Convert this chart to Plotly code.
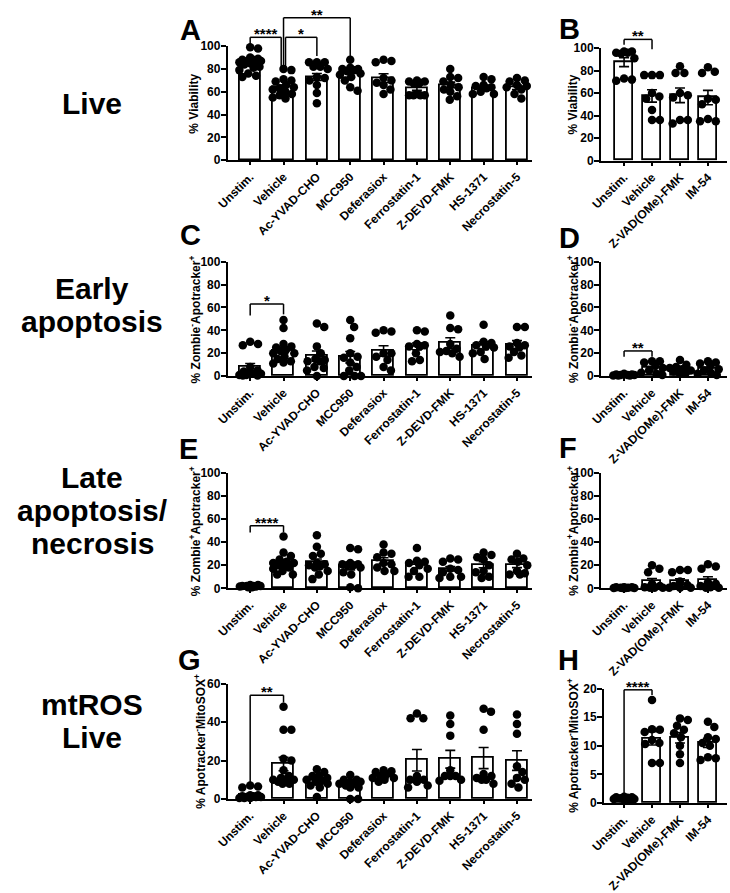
import numpy as np
import plotly.graph_objects as go

W, H = 730, 893

# ---------------- categories ----------------
left_cats = ["Unstim.", "Vehicle", "Ac-YVAD-CHO", "MCC950", "Deferasiox",
             "Ferrostatin-1", "Z-DEVD-FMK", "HS-1371", "Necrostatin-5"]
right_cats = ["Unstim.", "Vehicle", "Z-VAD(OMe)-FMK", "IM-54"]

# ---------------- Panel A: Live, % viability ----------------
A_points = [
    [99, 98, 90, 89, 88, 88, 87, 87, 86, 86, 85, 84, 82, 81, 79, 76, 74, 73],
    [80, 79, 71, 70, 69, 66, 64, 63, 62, 60, 58, 57, 55, 54],
    [86, 86, 86, 82, 82, 80, 73, 72, 70, 66, 59, 50],
    [88, 81, 80, 80, 79, 78, 76, 75, 73, 70, 64, 61],
    [88, 87, 86, 70, 68, 72, 66, 62, 58],
    [70, 69, 69, 68, 67, 58, 57, 57, 57, 57],
    [80, 73, 72, 69, 66, 64, 62, 60, 56, 53],
    [73, 71, 66, 65, 64, 63, 58, 58, 60],
    [72, 70, 69, 66, 65, 64, 62, 58, 54],
]
A_mean = [85, 64, 73, 75, 72, 63, 66, 63, 64]
A_sem = [1.6, 2.0, 3.0, 2.2, 3.8, 1.7, 2.5, 1.8, 2.0]

# ---------------- Panel B ----------------
B_points = [
    [97, 97, 96, 96, 95, 91, 73, 72, 71],
    [76, 76, 76, 60, 57, 55, 45, 36, 36],
    [84, 78, 78, 60, 58, 56, 36, 36, 33],
    [83, 79, 78, 55, 54, 50, 37, 35, 35],
]
B_mean = [87.5, 57.5, 58, 56]
B_sem = [3.9, 5.5, 6.5, 6.4]

# ---------------- Panel C: early apoptosis ----------------
C_points = [
    [30, 28, 27, 8, 5, 4, 3, 2, 2, 1, 1, 0.5, 0.5],
    [49, 42, 28, 26, 25, 23, 22, 20, 20, 17, 15, 13, 12, 11],
    [46, 43, 26, 20, 15, 14, 13, 13, 8, 7, 5, 0],
    [49, 43, 33, 20, 17, 16, 12, 8, 5, 0, 0, 0],
    [40, 39, 38, 20, 20, 17, 14, 8, 5],
    [40, 39, 28, 27, 26, 26, 20, 14, 13],
    [53, 42, 41, 28, 24, 22, 21, 20, 17],
    [45, 30, 29, 27, 26, 25, 21, 20, 15],
    [43, 43, 29, 27, 26, 25, 21, 18, 16],
]
C_mean = [8, 22.5, 17.5, 16.5, 22, 26, 29, 26.5, 27.5]
C_sem = [3, 3, 4.5, 5, 4.5, 3, 4.5, 3.5, 3.5]

# ---------------- Panel D ----------------
D_points = [
    [2, 1.5, 1.5, 1, 1, 1, 0.5, 0.5, 0.5],
    [13, 13, 12, 9, 7, 5, 3, 2, 1],
    [14, 10, 8, 7, 6, 5, 4, 3, 2],
    [13, 12, 11, 9, 6, 5, 3, 2, 1],
]
D_mean = [1.1, 7.0, 6.3, 6.5]
D_sem = [0.2, 1.6, 1.2, 1.5]

# ---------------- Panel E: late apoptosis / necrosis ----------------
E_points = [
    [3, 3, 2, 2, 2, 2, 1.5, 1.5, 1, 1, 1],
    [45, 31, 28, 25, 23, 22, 22, 21, 20, 18, 17, 15, 12, 12],
    [46, 36, 30, 28, 22, 21, 20, 19, 18, 15, 12, 8],
    [35, 34, 22, 21, 21, 20, 20, 18, 14, 12, 1, 0],
    [38, 31, 30, 27, 22, 21, 18, 15, 15],
    [35, 24, 23, 22, 20, 17, 15, 10, 10],
    [26, 25, 23, 17, 16, 14, 10, 10, 9],
    [31, 29, 27, 25, 20, 15, 14, 10, 9],
    [30, 26, 25, 23, 20, 15, 13, 12, 12],
]
E_mean = [1.8, 22.5, 22.5, 19, 24, 20, 17, 20.5, 20]
E_sem = [0.2, 2.3, 3, 3, 2.5, 2.5, 2, 2.6, 2]

# ---------------- Panel F ----------------
F_points = [
    [1, 1, 1, 0.5, 0.5, 0.3, 0.3, 0.2, 0.2],
    [20, 17, 14, 4, 2, 1, 0.5, 0.5, 0.5],
    [16, 16, 14, 6, 3, 2, 0.5, 0.5, 0.5],
    [21, 19, 17, 5, 4, 2, 1, 0.5, 0.5],
]
F_mean = [0.6, 6.0, 6.0, 7.0]
F_sem = [0.1, 2.6, 2.3, 3.0]

# ---------------- Panel G: mtROS ----------------
G_points = [
    [7, 6.5, 6, 2, 2, 1.5, 1.5, 1, 1, 1, 0.5, 0.5, 0.5],
    [48, 36, 36, 21, 20, 15, 12, 11, 10, 10, 10, 9, 8, 8],
    [15.5, 14, 12, 12, 11, 10, 9.5, 9, 8, 7, 6, 1],
    [12.5, 10, 10, 9, 9, 8, 8, 7, 6, 6, 0, 0],
    [15, 14.5, 14, 13, 12, 11, 11, 10, 9],
    [44.5, 42, 42, 12, 10, 10, 9, 7, 6],
    [43.5, 39, 33, 15, 12, 12, 12, 10, 9.5],
    [47, 45.5, 36, 13, 12, 11, 10, 10, 8],
    [44, 39, 34, 17, 14, 11, 10, 8, 6],
]
G_mean = [2.0, 18.2, 9.5, 7.5, 11.6, 20.2, 20.7, 21.3, 20.0]
G_sem = [0.7, 3.5, 1.2, 1.1, 0.8, 5.6, 4.6, 5.5, 5.1]

# ---------------- Panel H ----------------
H_points = [
    [1.1, 1.0, 1.0, 0.9, 0.8, 0.7, 0.7, 0.6, 0.5],
    [18, 12.9, 12.8, 12.4, 11, 10.5, 10.3, 7, 7],
    [14.8, 14.5, 13.5, 12.8, 12.2, 11.5, 10, 8.5, 7],
    [14.2, 13.3, 11.5, 11.2, 10.5, 10, 8, 7.8, 7.5],
]
H_mean = [0.8, 11.3, 11.4, 10.5]
H_sem = [0.07, 1.15, 0.9, 0.8]

# significance brackets: (x_left, x_right, y_top, y_left_end, y_right_end, label)
A_sig = [(0, 0.93, 107.8, 101.5, 81, "****"),
         (1.06, 2.0, 107.8, 81, 91.5, "*"),
         (1.0, 3.0, 125, 81, 91.5, "**")]
B_sig = [(0, 1, 107.8, 103, 99, "**")]
C_sig = [(0, 1, 63, 53, 54, "*")]
D_sig = [(0, 1, 22, 17, 17, "**")]
E_sig = [(0, 1, 54.4, 48.5, 48.5, "****")]
F_sig = []
G_sig = [(0, 1, 54, 8, 50.2, "**")]
H_sig = [(0, 1, 19.8, 1.3, 18.9, "****")]

T_viab = "% Viability"
T_early = "% Zombie<sup>-</sup>Apotracker<sup>+</sup>"
T_late = "% Zombie<sup>+</sup>Apotracker<sup>+</sup>"
T_ros = "% Apotracker<sup>-</sup>MitoSOX<sup>+</sup>"

# geometry (pixels)
LEFT = dict(yax=218, xend=528, c0=240.8, step=34.0, tx=184)
RIGHT = dict(yax=598.5, xend=727, c0=622.0, step=28.5, tx=570)

panels = [
    dict(L="A", g=LEFT, cats=left_cats, pts=A_points, m=A_mean, s=A_sem, sig=A_sig,
         ytop=40, ybot=156.3, ymax=100, dt=20, title=T_viab, lx=180, ly=23),
    dict(L="B", g=RIGHT, cats=right_cats, pts=B_points, m=B_mean, s=B_sem, sig=B_sig,
         ytop=42, ybot=156.7, ymax=100, dt=20, title=T_viab, lx=566, ly=22),
    dict(L="C", g=LEFT, cats=left_cats, pts=C_points, m=C_mean, s=C_sem, sig=C_sig,
         ytop=260, ybot=376.7, ymax=100, dt=20, title=T_early, lx=180, ly=233),
    dict(L="D", g=RIGHT, cats=right_cats, pts=D_points, m=D_mean, s=D_sem, sig=D_sig,
         ytop=260, ybot=376.7, ymax=100, dt=20, title=T_early, lx=566, ly=236),
    dict(L="E", g=LEFT, cats=left_cats, pts=E_points, m=E_mean, s=E_sem, sig=E_sig,
         ytop=475.7, ybot=593.3, ymax=100, dt=20, title=T_late, lx=178, ly=451),
    dict(L="F", g=RIGHT, cats=right_cats, pts=F_points, m=F_mean, s=F_sem, sig=F_sig,
         ytop=475.7, ybot=593.3, ymax=100, dt=20, title=T_late, lx=565, ly=450),
    dict(L="G", g=dict(LEFT, tx=190), cats=left_cats, pts=G_points, m=G_mean, s=G_sem, sig=G_sig,
         ytop=690.7, ybot=808.3, ymax=60, dt=20, title=T_ros, lx=179, ly=666),
    dict(L="H", g=dict(RIGHT, yax=601.5), cats=right_cats, pts=H_points, m=H_mean, s=H_sem, sig=H_sig,
         ytop=695.7, ybot=812.3, ymax=20, dt=5, title=T_ros, lx=565, ly=666),
]

FONT = "Arial"
BOLD = dict(family=FONT, color="black", weight="bold")


def swarm(vals, pxx, pxy, d=8.0, maxw=11.0):
    """Deterministic beeswarm offsets (in category units)."""
    order = sorted(range(len(vals)), key=lambda i: -vals[i])
    placed = []
    offs = [0.0] * len(vals)
    cands = [0.0]
    for j in range(1, 60):
        c = j * 0.5
        if c > maxw:
            break
        cands += [c, -c]
    for i in order:
        y = vals[i] * pxy
        best, bestd = 0.0, -1
        for c in cands:
            md = min([np.hypot(c - px, y - py) for px, py in placed] + [1e9])
            if md >= d:
                best = c
                bestd = 1e9
                break
            if md > bestd + 0.5:
                best, bestd = c, md
        placed.append((best, y))
        offs[i] = best / pxx
    return offs


fig = go.Figure()
layout = dict(width=W, height=H, margin=dict(l=0, r=0, t=0, b=0),
              plot_bgcolor="white", paper_bgcolor="white", showlegend=False,
              bargap=0, font=dict(family=FONT, color="black", size=12))
annotations = []
shapes = []

for k, p in enumerate(panels, start=1):
    g = p["g"]
    sx = "" if k == 1 else str(k)
    xa, ya = "x" + sx, "y" + sx
    n = len(p["cats"])
    r0 = (g["yax"] - g["c0"]) / g["step"]
    r1 = (g["xend"] - g["c0"]) / g["step"]
    pxy = (p["ybot"] - p["ytop"]) / p["ymax"]

    fig.add_trace(go.Bar(
        x=list(range(n)), y=p["m"], width=0.63, xaxis=xa, yaxis=ya,
        marker=dict(color="white", line=dict(color="black", width=1.8)),
        error_y=dict(type="data", array=p["s"], color="black", thickness=1.6, width=5),
        hoverinfo="skip"))
    xs, ys = [], []
    for i, vals in enumerate(p["pts"]):
        offs = swarm(vals, g["step"], pxy)
        xs += [i + o for o in offs]
        ys += list(vals)
    fig.add_trace(go.Scatter(
        x=xs, y=ys, mode="markers", xaxis=xa, yaxis=ya, cliponaxis=False,
        marker=dict(color="black", size=8.5, line=dict(width=0))))

    layout["xaxis" + sx] = dict(
        domain=[g["yax"] / W, g["xend"] / W], range=[r0, r1], anchor=ya,
        tickvals=list(range(n)), ticktext=p["cats"], tickangle=-45,
        tickfont=dict(BOLD, size=12), showline=True, linecolor="black", linewidth=2,
        ticks="outside", ticklen=3, tickwidth=1.5, tickcolor="black",
        showgrid=False, zeroline=False, fixedrange=True)
    layout["yaxis" + sx] = dict(
        domain=[1 - p["ybot"] / H, 1 - p["ytop"] / H], range=[0, p["ymax"]], anchor=xa,
        dtick=p["dt"], tick0=0, tickfont=dict(BOLD, size=12), showline=True,
        linecolor="black", linewidth=2, ticks="outside", ticklen=5, tickwidth=2,
        tickcolor="black", showgrid=False, zeroline=False, fixedrange=True,
        ticklabelstandoff=-2)

    def fx(v):
        return (v - r0) / (r1 - r0)

    def fy(v):
        return v / p["ymax"]

    for (xl, xr, yt, yl, yr, lab) in p["sig"]:
        segs = [(xl, yl, xl, yt), (xl, yt, xr, yt), (xr, yt, xr, yr)]
        for (a0, b0, a1, b1) in segs:
            shapes.append(dict(type="line", xref=xa + " domain", yref=ya + " domain",
                               x0=fx(a0), y0=fy(b0), x1=fx(a1), y1=fy(b1),
                               line=dict(color="black", width=1.5)))
        annotations.append(dict(text=lab, xref=xa + " domain", yref=ya + " domain",
                                x=fx((xl + xr) / 2), y=fy(yt), xanchor="center",
                                yanchor="bottom", yshift=-7, showarrow=False,
                                font=dict(BOLD, size=15)))

    # y title
    annotations.append(dict(text=p["title"], xref="paper", yref="paper",
                            x=g["tx"] / W, y=1 - (p["ytop"] + p["ybot"]) / 2 / H,
                            xanchor="center", yanchor="middle", textangle=-90,
                            showarrow=False, font=dict(BOLD, size=12)))
    # panel letter
    annotations.append(dict(text=p["L"], xref="paper", yref="paper",
                            x=p["lx"] / W, y=1 - p["ly"] / H, xanchor="center",
                            yanchor="middle", showarrow=False, font=dict(BOLD, size=29)))

# row labels (one annotation per line)
row_lines = [("Live", 98), ("Early", 287), ("apoptosis", 321),
             ("Late", 480), ("apoptosis/", 514), ("necrosis", 548),
             ("mtROS", 712), ("Live", 746)]
for txt, yc in row_lines:
    annotations.append(dict(text=txt, xref="paper", yref="paper", x=80 / W,
                            y=1 - yc / H, xanchor="center", yanchor="middle",
                            showarrow=False, font=dict(BOLD, size=30)))

layout["annotations"] = annotations
layout["shapes"] = shapes
fig.update_layout(**layout)
fig.write_html("out.html")
